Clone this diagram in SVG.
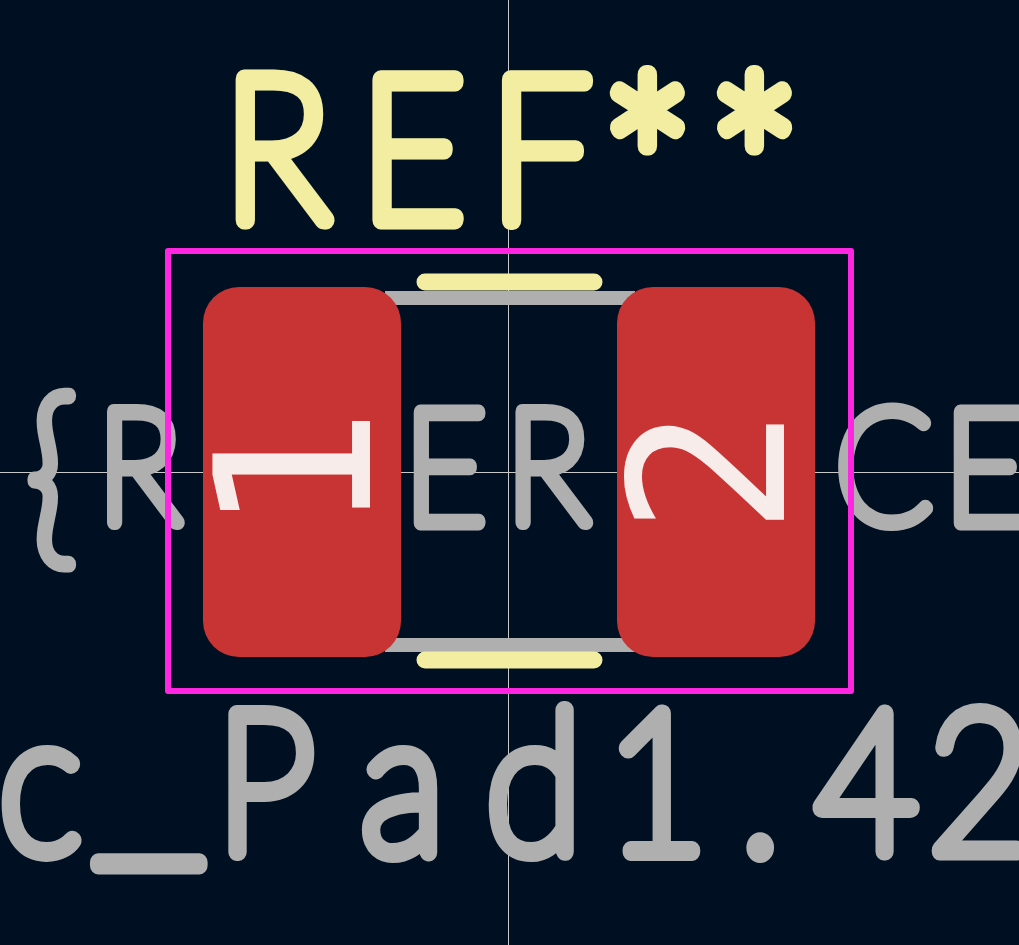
<svg xmlns="http://www.w3.org/2000/svg" width="1019" height="945" viewBox="0 0 1019 945">
<style>
.bg{fill:#001023}
.cross{stroke:#c8c8c8;stroke-width:1;fill:none}
.fab{stroke:#afafaf;stroke-width:14;fill:none}
.silk{stroke:#f2eda1;stroke-width:17;stroke-linecap:round;fill:none}
.crt{stroke:#ff26e2;stroke-width:6;stroke-linejoin:round;fill:none}
.pad{fill:#c83434}
.val,.ref{font-family:"Lato","Liberation Sans",sans-serif;font-weight:100;stroke-linejoin:round;stroke-linecap:round}
.val{fill:#afafaf;stroke:#afafaf}
.ref{fill:#f2eda1;stroke:#f2eda1;stroke-width:19;font-size:201px}
.num{font-family:"DejaVu Sans Mono","Liberation Mono",monospace;fill:#f8eceb;font-size:215px;text-anchor:middle}
</style>
<rect class="bg" width="1019" height="945"/>
<g id="crosshair"><path class="cross" d="M508.500 0V945M0 472.500H1019"/></g>
<g id="fab-lines"><path class="fab" d="M385 298H635M385 645H635"/></g>
<g id="fab-text">
<text class="val" transform="scale(.9 1)" font-size="158" stroke-width="15" y="523"><tspan x="-88">$</tspan><tspan x="29" y="541" font-size="195">{</tspan><tspan x="108 221 336 449 562 677 791 928 1049" y="523">REFERENCE</tspan></text>
<text class="val" transform="scale(.9 1)" font-size="196" stroke-width="18" y="852"><tspan x="-1">c</tspan><tspan x="102" y="828" font-size="286">_</tspan><tspan x="240 401 540 673 822 906 1031" y="852">Pad1.42</tspan></text>
</g>
<g id="silk-lines"><path class="silk" d="M425 282H594M425 660H594"/></g>
<g id="ref-text"><text class="ref" transform="scale(.9 1)" y="220"><tspan x="248 400 544">REF</tspan><tspan x="665 784" y="265" font-size="256">**</tspan></text></g>
<g id="courtyard"><rect class="crt" x="168" y="251" width="683" height="440"/></g>
<g id="pad-1"><rect class="pad" x="203" y="287" width="198" height="370" rx="36"/><text class="num" transform="translate(370 471) rotate(-90)">1</text></g>
<g id="pad-2"><rect class="pad" x="617" y="287" width="198" height="370" rx="36"/><text class="num" transform="translate(784 471) rotate(-90)">2</text></g>
</svg>
